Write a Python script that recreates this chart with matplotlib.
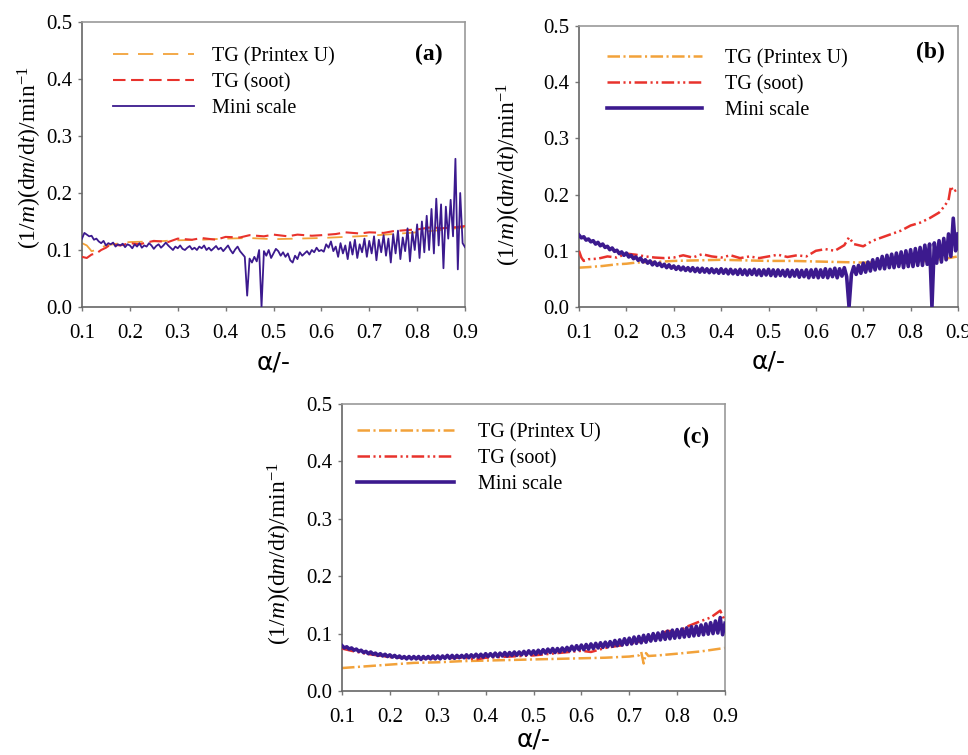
import numpy as np
import matplotlib
matplotlib.use("Agg")
import matplotlib.pyplot as plt

plt.rcParams['font.family'] = ['Liberation Serif', 'DejaVu Serif']
plt.rcParams['mathtext.fontset'] = 'custom'
plt.rcParams['mathtext.rm'] = 'Liberation Serif'
plt.rcParams['mathtext.it'] = 'Liberation Serif:italic'
plt.rcParams['lines.scale_dashes'] = False

# ---------------- data ----------------
xticks = [0.1, 0.2, 0.3, 0.4, 0.5, 0.6, 0.7, 0.8, 0.9]
yticks = [0.0, 0.1, 0.2, 0.3, 0.4, 0.5]
labels = ["TG (Printex U)", "TG (soot)", "Mini scale"]
panel_tags = ["(a)", "(b)", "(c)"]

# panel (a)
a_printex_alpha = [0.10, 0.11, 0.12, 0.13, 0.15, 0.18, 0.20, 0.25, 0.30, 0.35, 0.40, 0.45,
                   0.50, 0.55, 0.60, 0.65, 0.70, 0.75, 0.80, 0.85, 0.90]
a_printex = [0.112, 0.108, 0.098, 0.100, 0.108, 0.112, 0.114, 0.115, 0.117, 0.118, 0.120, 0.121,
             0.119, 0.120, 0.121, 0.123, 0.125, 0.128, 0.131, 0.135, 0.140]
a_soot_alpha = [0.10, 0.11, 0.12, 0.13, 0.14, 0.15, 0.16, 0.18, 0.20, 0.22, 0.25, 0.28, 0.30, 0.33,
                0.35, 0.38, 0.40, 0.43, 0.45, 0.48, 0.50, 0.53, 0.55, 0.58, 0.60, 0.63, 0.65, 0.68,
                0.70, 0.73, 0.75, 0.78, 0.80, 0.83, 0.85, 0.88, 0.90]
a_soot = [0.088, 0.086, 0.092, 0.094, 0.100, 0.104, 0.110, 0.108, 0.112, 0.110, 0.116, 0.114, 0.120,
          0.118, 0.121, 0.118, 0.123, 0.122, 0.126, 0.124, 0.127, 0.124, 0.127, 0.125, 0.126, 0.128,
          0.131, 0.129, 0.131, 0.130, 0.133, 0.135, 0.136, 0.140, 0.138, 0.140, 0.142]
a_mini = [0.120, 0.130, 0.127, 0.124, 0.125, 0.118, 0.120, 0.115, 0.112, 0.116,
          0.108, 0.112, 0.110, 0.113, 0.106, 0.110, 0.108, 0.111, 0.105, 0.110,
          0.108, 0.103, 0.110, 0.106, 0.112, 0.104, 0.108, 0.106, 0.112, 0.108,
          0.102, 0.107, 0.110, 0.104, 0.108, 0.113, 0.108, 0.104, 0.100, 0.106,
          0.103, 0.108, 0.102, 0.100, 0.104, 0.107, 0.101, 0.104, 0.100, 0.106,
          0.103, 0.108, 0.100, 0.104, 0.099, 0.103, 0.107, 0.101, 0.104, 0.098,
          0.103, 0.108, 0.100, 0.094, 0.101, 0.106, 0.098, 0.093, 0.088, 0.020,
          0.085, 0.078, 0.088, 0.080, 0.100, 0.000, 0.098, 0.090, 0.100, 0.086,
          0.094, 0.102, 0.098, 0.090, 0.096, 0.088, 0.094, 0.082, 0.078, 0.090,
          0.084, 0.096, 0.090, 0.094, 0.098, 0.092, 0.100, 0.096, 0.104, 0.098,
          0.100, 0.097, 0.110, 0.104, 0.115, 0.098, 0.106, 0.088, 0.112, 0.094,
          0.108, 0.084, 0.114, 0.092, 0.118, 0.086, 0.110, 0.096, 0.120, 0.088,
          0.116, 0.094, 0.124, 0.082, 0.118, 0.096, 0.126, 0.090, 0.120, 0.078,
          0.128, 0.094, 0.134, 0.084, 0.122, 0.098, 0.138, 0.080, 0.132, 0.100,
          0.145, 0.086, 0.150, 0.096, 0.160, 0.100, 0.172, 0.094, 0.190, 0.108,
          0.180, 0.068, 0.176, 0.120, 0.188, 0.124, 0.260, 0.066, 0.200, 0.112,
          0.105]

# panel (b)
b_printex_alpha = [0.10, 0.12, 0.15, 0.18, 0.20, 0.22, 0.25, 0.28, 0.30, 0.35, 0.40, 0.45, 0.50,
                   0.55, 0.60, 0.65, 0.70, 0.75, 0.80, 0.85, 0.88, 0.90]
b_printex = [0.070, 0.071, 0.073, 0.076, 0.077, 0.079, 0.080, 0.081, 0.082, 0.083, 0.084, 0.083,
             0.082, 0.082, 0.081, 0.080, 0.079, 0.079, 0.080, 0.083, 0.087, 0.090]
b_soot_alpha = [0.100, 0.105, 0.110, 0.120, 0.140, 0.160, 0.180, 0.200, 0.220, 0.240, 0.260, 0.280,
                0.300, 0.320, 0.340, 0.360, 0.380, 0.400, 0.420, 0.440, 0.460, 0.480, 0.500, 0.520,
                0.540, 0.560, 0.580, 0.600, 0.620, 0.640, 0.660, 0.670, 0.680, 0.700, 0.720, 0.740,
                0.760, 0.780, 0.800, 0.820, 0.840, 0.860, 0.870, 0.880, 0.885, 0.890, 0.900]
b_soot = [0.100, 0.088, 0.082, 0.085, 0.086, 0.090, 0.088, 0.095, 0.093, 0.090, 0.088, 0.087,
          0.088, 0.092, 0.088, 0.094, 0.090, 0.088, 0.092, 0.087, 0.090, 0.087, 0.090, 0.093,
          0.089, 0.092, 0.090, 0.100, 0.103, 0.100, 0.110, 0.124, 0.112, 0.108, 0.118, 0.124,
          0.130, 0.136, 0.145, 0.150, 0.158, 0.168, 0.178, 0.190, 0.215, 0.205, 0.210]
b_mini = [0.128, 0.123, 0.125, 0.119, 0.121, 0.116, 0.118, 0.112, 0.115, 0.109,
          0.112, 0.106, 0.108, 0.102, 0.105, 0.099, 0.101, 0.095, 0.098, 0.092,
          0.096, 0.089, 0.092, 0.086, 0.089, 0.083, 0.087, 0.080, 0.084, 0.078,
          0.082, 0.075, 0.080, 0.074, 0.078, 0.072, 0.076, 0.070, 0.075, 0.069,
          0.073, 0.067, 0.072, 0.066, 0.071, 0.065, 0.070, 0.064, 0.070, 0.063,
          0.069, 0.062, 0.069, 0.062, 0.068, 0.061, 0.068, 0.061, 0.067, 0.060,
          0.068, 0.060, 0.067, 0.059, 0.067, 0.059, 0.066, 0.058, 0.067, 0.058,
          0.066, 0.057, 0.066, 0.058, 0.067, 0.057, 0.066, 0.056, 0.066, 0.057,
          0.067, 0.056, 0.066, 0.055, 0.066, 0.056, 0.065, 0.055, 0.066, 0.054,
          0.065, 0.055, 0.066, 0.053, 0.065, 0.054, 0.066, 0.052, 0.066, 0.053,
          0.067, 0.052, 0.066, 0.053, 0.068, 0.052, 0.067, 0.054, 0.069, 0.052,
          0.068, 0.055, 0.070, 0.054, 0.000, 0.058, 0.072, 0.058, 0.074, 0.060,
          0.078, 0.062, 0.080, 0.064, 0.084, 0.066, 0.086, 0.068, 0.090, 0.068,
          0.092, 0.070, 0.094, 0.070, 0.096, 0.072, 0.098, 0.070, 0.100, 0.072,
          0.102, 0.072, 0.104, 0.074, 0.106, 0.074, 0.110, 0.076, 0.112, 0.000,
          0.114, 0.078, 0.118, 0.080, 0.122, 0.084, 0.130, 0.090, 0.158, 0.100,
          0.130]

# panel (c)
c_printex_alpha = [0.10, 0.15, 0.20, 0.25, 0.30, 0.35, 0.40, 0.45, 0.50, 0.55, 0.60, 0.65, 0.70,
                   0.72, 0.725, 0.73, 0.735, 0.74, 0.76, 0.80, 0.85, 0.90]
c_printex = [0.040, 0.043, 0.046, 0.049, 0.050, 0.052, 0.053, 0.054, 0.055, 0.056, 0.057, 0.058,
             0.060, 0.062, 0.068, 0.048, 0.066, 0.061, 0.062, 0.065, 0.069, 0.075]
c_soot_alpha = [0.10, 0.12, 0.15, 0.20, 0.25, 0.30, 0.35, 0.38, 0.40, 0.45, 0.50, 0.55, 0.60, 0.62,
                0.65, 0.70, 0.75, 0.78, 0.80, 0.82, 0.85, 0.87, 0.89, 0.90]
c_soot = [0.074, 0.070, 0.065, 0.059, 0.057, 0.057, 0.058, 0.055, 0.058, 0.060, 0.062, 0.066,
          0.070, 0.068, 0.075, 0.082, 0.092, 0.105, 0.102, 0.112, 0.122, 0.128, 0.140, 0.122]
c_mini = [0.079, 0.075, 0.077, 0.073, 0.075, 0.071, 0.073, 0.069, 0.071, 0.067,
          0.069, 0.065, 0.068, 0.064, 0.066, 0.062, 0.065, 0.061, 0.064, 0.060,
          0.063, 0.059, 0.062, 0.058, 0.061, 0.057, 0.060, 0.056, 0.060, 0.056,
          0.060, 0.056, 0.060, 0.055, 0.060, 0.056, 0.060, 0.056, 0.061, 0.056,
          0.061, 0.056, 0.061, 0.057, 0.062, 0.057, 0.062, 0.057, 0.062, 0.058,
          0.062, 0.058, 0.063, 0.058, 0.063, 0.059, 0.064, 0.059, 0.064, 0.059,
          0.065, 0.060, 0.065, 0.060, 0.066, 0.060, 0.066, 0.061, 0.067, 0.061,
          0.067, 0.062, 0.068, 0.062, 0.068, 0.063, 0.069, 0.063, 0.070, 0.064,
          0.070, 0.064, 0.071, 0.065, 0.072, 0.066, 0.073, 0.067, 0.074, 0.067,
          0.074, 0.068, 0.075, 0.069, 0.076, 0.070, 0.078, 0.071, 0.079, 0.072,
          0.080, 0.072, 0.081, 0.073, 0.082, 0.074, 0.083, 0.075, 0.084, 0.076,
          0.085, 0.077, 0.086, 0.078, 0.088, 0.079, 0.089, 0.080, 0.091, 0.081,
          0.092, 0.082, 0.094, 0.083, 0.095, 0.084, 0.097, 0.085, 0.098, 0.087,
          0.100, 0.088, 0.101, 0.089, 0.103, 0.090, 0.104, 0.091, 0.106, 0.092,
          0.107, 0.093, 0.108, 0.094, 0.110, 0.095, 0.112, 0.096, 0.113, 0.097,
          0.115, 0.098, 0.117, 0.099, 0.119, 0.100, 0.122, 0.101, 0.128, 0.098,
          0.118]

# ---------------- style ----------------
ORANGE = '#f2a23a'
RED = '#e8322c'
PURPLE = '#3c1a8e'

fig = plt.figure(figsize=(9.68, 7.55), dpi=100)
axes_rects = [
    [82 / 968, (755 - 307) / 755, 383 / 968, 285 / 755],
    [579 / 968, (755 - 307) / 755, 379 / 968, 281 / 755],
    [342 / 968, (755 - 691) / 755, 383 / 968, 287 / 755],
]

panels = [
    dict(pa=a_printex_alpha, p=a_printex, sa=a_soot_alpha, s=a_soot, m=a_mini,
         pls=(0, (11, 7)), sls=(0, (9, 4)), plw=1.3, slw=1.5, mlw=1.3,
         leg=(0.060, 0.940), hl=4.0, htp=0.9, tag=(0.905, 0.885),
         ylc=(-0.099, 0.525), xlc=-0.151),
    dict(pa=b_printex_alpha, p=b_printex, sa=b_soot_alpha, s=b_soot, m=b_mini,
         pls=(0, (9, 2.5, 1.5, 2.5)), sls=(0, (9, 2.5, 1.5, 2.5, 1.5, 2.5)),
         plw=1.8, slw=1.8, mlw=2.6, leg=(0.053, 0.946), hl=4.7, htp=1.15,
         tag=(0.926, 0.905), ylc=(-0.148, 0.47), xlc=-0.150),
    dict(pa=c_printex_alpha, p=c_printex, sa=c_soot_alpha, s=c_soot, m=c_mini,
         pls=(0, (9, 2.5, 1.5, 2.5)), sls=(0, (9, 2.5, 1.5, 2.5, 1.5, 2.5)),
         plw=1.8, slw=1.8, mlw=2.6, leg=(0.018, 0.962), hl=4.8, htp=1.2,
         tag=(0.925, 0.885), ylc=(-0.125, 0.48), xlc=-0.128),
]

ylabel = r"(1/$\mathit{m}$)(d$\mathit{m}$/d$\mathit{t}$)/min$^{-1}$"

for rect, pnl, tag in zip(axes_rects, panels, panel_tags):
    ax = fig.add_axes(rect)
    mini_alpha = np.linspace(0.1, 0.9, len(pnl['m']))
    ax.plot(pnl['pa'], pnl['p'], color=ORANGE, lw=pnl['plw'], ls=pnl['pls'], label=labels[0], zorder=2)
    ax.plot(pnl['sa'], pnl['s'], color=RED, lw=pnl['slw'], ls=pnl['sls'], label=labels[1], zorder=3)
    ax.plot(mini_alpha, pnl['m'], color=PURPLE, lw=pnl['mlw'], ls='-', label=labels[2], zorder=4)

    ax.set_xlim(0.1, 0.9)
    ax.set_ylim(0.0, 0.5)
    ax.set_xticks(xticks)
    ax.set_xticklabels([f"{v:.1f}" for v in xticks])
    ax.set_yticks(yticks)
    ax.set_yticklabels([f"{v:.1f}" for v in yticks])
    ax.tick_params(direction='out', length=3, width=1, colors='#777777', labelsize=15,
                   labelcolor='black')
    ax.tick_params(axis='x', pad=9)
    ax.tick_params(axis='y', pad=4)
    for side in ['left', 'bottom']:
        ax.spines[side].set_color('#666666')
        ax.spines[side].set_linewidth(1.2)
    for side in ['top', 'right']:
        ax.spines[side].set_color('#999999')
        ax.spines[side].set_linewidth(1.2)

    ax.set_ylabel(ylabel, fontsize=17)
    ax.yaxis.set_label_coords(*pnl['ylc'])
    ax.set_xlabel("α/-", fontsize=18, family='DejaVu Sans')
    ax.xaxis.set_label_coords(0.5, pnl['xlc'])

    ax.legend(loc='upper left', bbox_to_anchor=pnl['leg'], frameon=False, fontsize=14.5,
              handlelength=pnl['hl'], handletextpad=pnl['htp'], labelspacing=0.33,
              borderaxespad=0)
    ax.text(pnl['tag'][0], pnl['tag'][1], tag, transform=ax.transAxes, fontsize=17,
            fontweight='bold', ha='center', va='center')

fig.savefig("out.png", dpi=100)
